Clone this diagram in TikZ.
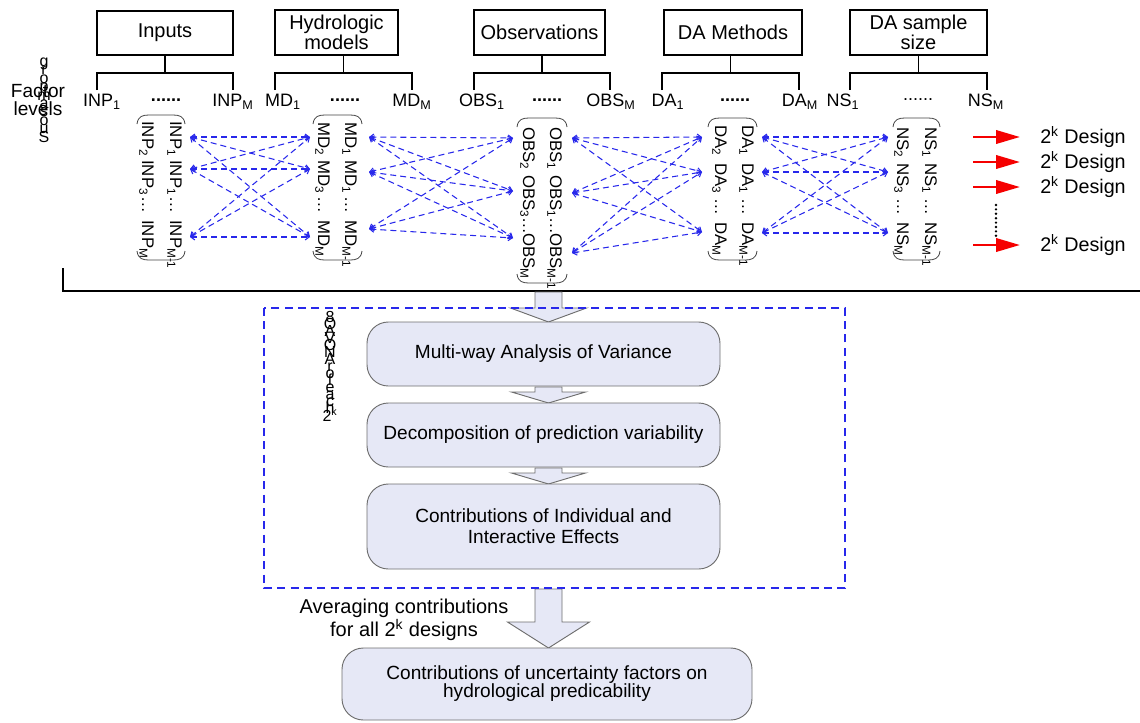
\documentclass[tikz,border=0pt]{standalone}
\usepackage{fontspec}
\setmainfont{Liberation Sans}
\usetikzlibrary{arrows.meta}
\definecolor{dblue}{RGB}{40,40,235}
\definecolor{bfill}{RGB}{230,232,246}
\definecolor{bline}{RGB}{110,110,110}
\definecolor{rred}{RGB}{245,0,0}
\newcommand\tightlines{\lineskiplimit=-30pt\relax\lineskip=0pt\relax}
\newcommand\rt[4]{\node[mtxt] (#1) at (#2,#3) {#4};}
\newcommand\mparen[4]{%
  \draw[paren] (#1,#3+9) .. controls (#1+1,#3+1) and (#1+6,#3) .. (#1+12,#3) -- (#2-12,#3) .. controls (#2-6,#3) and (#2-1,#3+1) .. (#2,#3+9);
  \draw[paren] (#1,#4-9) .. controls (#1+1,#4-1) and (#1+6,#4) .. (#1+12,#4) -- (#2-12,#4) .. controls (#2-6,#4) and (#2-1,#4-1) .. (#2,#4-9);}
\newcommand\blockarr[5]{%
  \filldraw[barrow] (#1-13.5,#2) -- (#1+13.5,#2) -- (#1+13.5,#3) -- (#1+#5,#3) -- (#1,#4) -- (#1-#5,#3) -- (#1-13.5,#3) -- cycle;}
\begin{document}
\begin{tikzpicture}[x=0.75pt,y=-0.75pt,
  topbox/.style={draw, line width=1pt, align=center, inner sep=0pt, font=\fontsize{15}{14.5}\selectfont},
  lvl/.style={inner sep=0pt, font=\fontsize{13.5}{14}\selectfont},
  brk/.style={line width=1pt},
  mtxt/.style={rotate=-90, anchor=base west, inner sep=0pt, font=\fontsize{12.6}{13}\selectfont},
  paren/.style={line width=0.6pt, black!75},
  dconn/.style={dblue, dash pattern=on 4.5pt off 3pt, line width=0.8pt, {Straight Barb[length=3pt,width=4.5pt]}-{Straight Barb[length=3pt,width=4.5pt]}},
  redarr/.style={rred, line width=2pt, -{Triangle[length=18pt,width=10pt]}},
  dlabel/.style={anchor=west, inner sep=0pt, font=\fontsize{14.8}{15}\selectfont},
  rbox/.style={draw=bline, fill=bfill, rounded corners=16pt, line width=0.7pt, align=center, inner sep=0pt, font=\fontsize{14.3}{15}\selectfont},
  barrow/.style={draw=bline, fill=bfill, line width=0.7pt},
  garb/.style={align=center, inner sep=0pt},
]
\useasboundingbox (0,0) rectangle (1140,722);

% ---------- top factor boxes ----------
\node[topbox, minimum width=102pt, minimum height=33pt] (inputs) at (165,33) {Inputs};
\node[topbox, minimum width=92.25pt, minimum height=33.75pt] (hydro) at (336.5,32.5) {Hydrologic\\models};
\node[topbox, minimum width=98.25pt, minimum height=33.75pt] (obs) at (539.5,32.5) {Observations};
\node[topbox, minimum width=103.5pt, minimum height=33.75pt] (dam) at (733,32.5) {DA Methods};
\node[topbox, minimum width=102.75pt, minimum height=33.75pt] (nss) at (918.5,32.5) {DA sample\\size};

% ---------- brackets ----------
\coordinate (inpS) at (165,73);
\coordinate (hydS) at (343.5,73);
\coordinate (obsS) at (542,73);
\coordinate (damS) at (730.5,73);
\coordinate (nssS) at (918.5,73);
\draw[brk] (inpS |- inputs.south) -- (inpS);
\draw[brk] (hydS |- hydro.south) -- (hydS);
\draw[brk] (obsS |- obs.south) -- (obsS);
\draw[brk] (damS |- dam.south) -- (damS);
\draw[brk] (nssS |- nss.south) -- (nssS);
\draw[brk] (97,90) -- (97,73) -- (233,73) -- (233,90);
\draw[brk] (275,90) -- (275,73) -- (412,73) -- (412,90);
\draw[brk] (474,90) -- (474,73) -- (610,73) -- (610,90);
\draw[brk] (662,90) -- (662,73) -- (799,73) -- (799,90);
\draw[brk] (850,90) -- (850,73) -- (987,73) -- (987,90);

% ---------- level labels ----------
\node[lvl] (l1) at (102,102) {INP\textsubscript{1}};
\node[lvl] (l2) at (166,100) {\textbf{......}};
\node[lvl] (l3) at (233,102) {INP\textsubscript{M}};
\node[lvl] (l4) at (283,102) {MD\textsubscript{1}};
\node[lvl] (l5) at (345,100) {\textbf{......}};
\node[lvl] (l6) at (412,102) {MD\textsubscript{M}};
\node[lvl] (l7) at (482,102) {OBS\textsubscript{1}};
\node[lvl] (l8) at (547,100) {\textbf{......}};
\node[lvl] (l9) at (611,102) {OBS\textsubscript{M}};
\node[lvl] (l10) at (668,102) {DA\textsubscript{1}};
\node[lvl] (l11) at (735,100) {\textbf{......}};
\node[lvl] (l12) at (800,102) {DA\textsubscript{M}};
\node[lvl] (l13) at (843,102) {NS\textsubscript{1}};
\node[lvl] (l14) at (918,100) {......};
\node[lvl] (l15) at (986,102) {NS\textsubscript{M}};

\node[align=center, inner sep=0pt, font=\fontsize{14.3}{13.5}\selectfont] (flev) at (38,100) {Factor\\levels};
\node[garb, font={\fontsize{12}{6.3}\selectfont\tightlines}] (g1) at (44,100) {g\\r\\o\\p\\m\\a\\s\\o\\u\\S};

% ---------- matrices ----------
\rt{inpa1}{170}{121}{INP\textsubscript{1}}
\rt{inpa2}{170}{160}{INP\textsubscript{1}}
\rt{inpa3}{170}{196}{\dots}
\rt{inpa4}{170}{220}{INP\textsubscript{M-1}}
\rt{inpb1}{142}{121}{INP\textsubscript{2}}
\rt{inpb2}{142}{160}{INP\textsubscript{3}}
\rt{inpb3}{142}{196}{\dots}
\rt{inpb4}{142}{220}{INP\textsubscript{M}}
\mparen{137}{185}{115}{260}

\rt{mda1}{345}{122}{MD\textsubscript{1}}
\rt{mda2}{345}{160}{MD\textsubscript{1}}
\rt{mda3}{345}{196}{\dots}
\rt{mda4}{345}{220}{MD\textsubscript{M-1}}
\rt{mdb1}{318}{122}{MD\textsubscript{2}}
\rt{mdb2}{318}{160}{MD\textsubscript{3}}
\rt{mdb3}{318}{196}{\dots}
\rt{mdb4}{318}{220}{MD\textsubscript{M}}
\mparen{313}{362}{115}{260}

\rt{obsa1}{550}{127}{OBS\textsubscript{1}}
\rt{obsa2}{550}{175}{OBS\textsubscript{1}\dots}
\rt{obsa3}{550}{233}{OBS\textsubscript{M-1}}
\rt{obsb1}{523}{127}{OBS\textsubscript{2}}
\rt{obsb2}{523}{175}{OBS\textsubscript{3}\dots}
\rt{obsb3}{523}{233}{OBS\textsubscript{M}}
\mparen{517}{567}{118}{283}

\rt{daa1}{742}{125}{DA\textsubscript{1}}
\rt{daa2}{742}{163}{DA\textsubscript{1}}
\rt{daa3}{742}{198}{\dots}
\rt{daa4}{742}{222}{DA\textsubscript{M-1}}
\rt{dab1}{715}{125}{DA\textsubscript{2}}
\rt{dab2}{715}{163}{DA\textsubscript{3}}
\rt{dab3}{715}{198}{\dots}
\rt{dab4}{715}{222}{DA\textsubscript{M}}
\mparen{708}{757}{118}{260}

\rt{nsa1}{925}{127}{NS\textsubscript{1}}
\rt{nsa2}{925}{163}{NS\textsubscript{1}}
\rt{nsa3}{925}{198}{\dots}
\rt{nsa4}{925}{222}{NS\textsubscript{M-1}}
\rt{nsb1}{897}{127}{NS\textsubscript{2}}
\rt{nsb2}{897}{163}{NS\textsubscript{3}}
\rt{nsb3}{897}{198}{\dots}
\rt{nsb4}{897}{222}{NS\textsubscript{M}}
\mparen{893}{940}{118}{260}

% ---------- connector endpoints ----------
\coordinate (iR1) at (190,137); \coordinate (iR2) at (190,169); \coordinate (iR3) at (190,237);
\coordinate (mL1) at (310,137); \coordinate (mL2) at (310,169); \coordinate (mL3) at (310,237);
\coordinate (mR1) at (369,137); \coordinate (mR2) at (369,172); \coordinate (mR3) at (369,229);
\coordinate (oL1) at (513,138); \coordinate (oL2) at (513,191); \coordinate (oL3) at (513,238);
\coordinate (oR1) at (572,138); \coordinate (oR2) at (572,193); \coordinate (oR3) at (572,253);
\coordinate (dL1) at (702,137); \coordinate (dL2) at (702,172); \coordinate (dL3) at (702,232);
\coordinate (dR1) at (762,137); \coordinate (dR2) at (762,172); \coordinate (dR3) at (762,233);
\coordinate (nL1) at (888,137); \coordinate (nL2) at (888,172); \coordinate (nL3) at (888,233);
\foreach \a in {1,2,3}{\foreach \b in {1,2,3}{
  \draw[dconn] (iR\a) -- (mL\b);
  \draw[dconn] (mR\a) -- (oL\b);
  \draw[dconn] (oR\a) -- (dL\b);
  \draw[dconn] (dR\a) -- (nL\b);
}}

% ---------- 2^k designs ----------
\node[dlabel] (d1) at (1040,137) {2\textsuperscript{k} Design};
\node[dlabel] (d2) at (1040,162) {2\textsuperscript{k} Design};
\node[dlabel] (d3) at (1040,187) {2\textsuperscript{k} Design};
\node[dlabel] (d4) at (1040,245) {2\textsuperscript{k} Design};
\coordinate (rs1) at (973,137); \coordinate (rs2) at (973,162);
\coordinate (rs3) at (973,187); \coordinate (rs4) at (973,245);
\draw[redarr, shorten >=15pt] (rs1) -- (d1.west);
\draw[redarr, shorten >=15pt] (rs2) -- (d2.west);
\draw[redarr, shorten >=15pt] (rs3) -- (d3.west);
\draw[redarr, shorten >=15pt] (rs4) -- (d4.west);
\coordinate (dt1) at (996,205); \coordinate (dt2) at (996,238);
\draw[line width=2pt, dash pattern=on 0pt off 3.3pt, line cap=round] (dt1) -- (dt2);

% ---------- separator ----------
\coordinate (s1) at (63,268); \coordinate (s2) at (63,291); \coordinate (s3) at (1140,291);
\draw[line width=1.9pt] (s1) -- (s2) -- (s3);

% ---------- block arrows ----------
\blockarr{548.5}{292}{308}{322}{38}
\blockarr{548.5}{387}{392}{403}{37}
\blockarr{548.5}{468}{473}{484}{37}
\blockarr{548.5}{589}{622}{648}{41}

% ---------- dashed box ----------
\coordinate (db1) at (264,308); \coordinate (db2) at (845,588);
\draw[dblue, dash pattern=on 6pt off 4pt, line width=1pt] (db1) rectangle (db2);
\node[garb, font={\fontsize{12}{5.3}\selectfont\tightlines}] (g2) at (330,366) {8\\O\\A\\V\\O\\N\\A\\r\\o\\f\\e\\a\\c\\h\\2\textsuperscript{k}};

% ---------- process boxes ----------
\node[rbox, minimum width=264.75pt, minimum height=48pt] (b1) at (543.5,354) {Multi-way Analysis of Variance};
\node[rbox, minimum width=264.75pt, minimum height=48pt] (b2) at (543.5,435) {Decomposition of prediction variability};
\node[rbox, minimum width=264.75pt, minimum height=63.75pt, font=\fontsize{14.3}{15.75}\selectfont] (b3) at (543.5,526.5) {Contributions of Individual and\\Interactive Effects};
\node[rbox, minimum width=307.5pt, minimum height=54pt, font=\fontsize{14.3}{13.5}\selectfont] (b4) at (547,684) {Contributions of uncertainty factors on\\hydrological predicability};

\node[align=center, inner sep=0pt, font=\fontsize{15}{13.5}\selectfont] (avg) at (404,620) {Averaging contributions\\for all 2\textsuperscript{k} designs};
\end{tikzpicture}
\end{document}
